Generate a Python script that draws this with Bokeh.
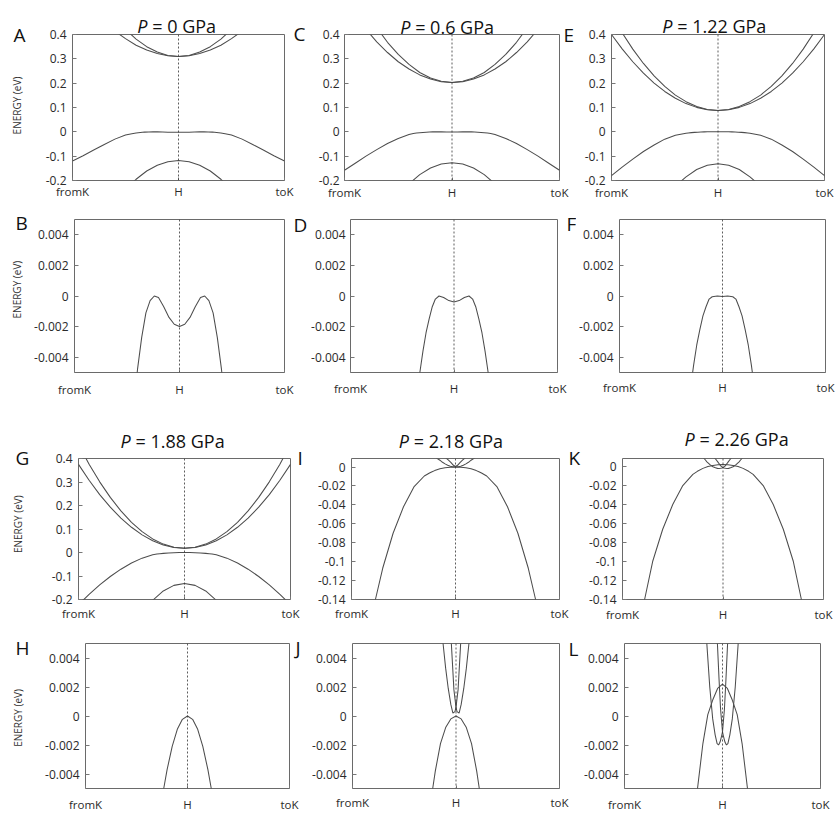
import math
from bokeh.plotting import figure
from bokeh.models import Range1d, FixedTicker, Label, Span
from bokeh.layouts import row, column
from bokeh.embed import file_html
from bokeh.resources import INLINE

# ---------------- axes / ticks ----------------
x_ticks = [-1, 0, 1]                      # fromK, H, toK
x_tick_labels = ["fromK", "H", "toK"]
wide_ticks = [-0.2, -0.1, 0, 0.1, 0.2, 0.3, 0.4]
wide_labels = ["-0.2", "-0.1", "0", "0.1", "0.2", "0.3", "0.4"]
fine_ticks = [-0.004, -0.002, 0, 0.002, 0.004]
fine_labels = ["-0.004", "-0.002", "0", "0.002", "0.004"]
mid_ticks = [-0.14, -0.12, -0.1, -0.08, -0.06, -0.04, -0.02, 0]
mid_labels = ["-0.14", "-0.12", "-0.1", "-0.08", "-0.06", "-0.04", "-0.02", "0"]

pressure_labels = ["0", "0.6", "1.22", "1.88", "2.18", "2.26"]
y_label = "ENERGY (eV)"

# ---------------- band data (k from H outward; symmetric bands) ----------------
# P = 0 GPa
k_cb1_p0 = [0, 0.1, 0.2, 0.3, 0.4, 0.5, 0.6]
e_cb1_p0 = [0.31, 0.313, 0.322, 0.336, 0.356, 0.383, 0.414]
k_cb2_p0 = [0, 0.1, 0.2, 0.3, 0.4, 0.5]
e_cb2_p0 = [0.31, 0.314, 0.328, 0.35, 0.381, 0.421]
k_vb1_p0 = [0, 0.05, 0.1, 0.15, 0.2, 0.24, 0.28, 0.32, 0.36, 0.4, 0.44, 0.5, 0.6, 0.7, 0.8, 0.9, 1.0]
e_vb1_p0 = [-0.002, -0.00185, -0.0014, -0.0007, -0.0001, 0.0, -0.0003, -0.0011, -0.0027, -0.0048,
            -0.0075, -0.013, -0.03, -0.052, -0.075, -0.098, -0.12]
k_vb2_p0 = [0, 0.1, 0.2, 0.3, 0.4, 0.45]
e_vb2_p0 = [-0.118, -0.123, -0.137, -0.161, -0.195, -0.215]

# P = 0.6 GPa
k_cb1_p06 = [0, 0.1, 0.2, 0.3, 0.4, 0.5, 0.6, 0.7, 0.8]
e_cb1_p06 = [0.203, 0.206, 0.217, 0.234, 0.258, 0.288, 0.326, 0.370, 0.421]
k_cb2_p06 = [0, 0.1, 0.2, 0.3, 0.4, 0.5, 0.6, 0.7]
e_cb2_p06 = [0.203, 0.208, 0.221, 0.244, 0.277, 0.318, 0.368, 0.428]
k_vb1_p06 = [0, 0.05, 0.1, 0.145, 0.18, 0.21, 0.24, 0.27, 0.3, 0.33, 0.36, 0.4, 0.5, 0.6, 0.7, 0.8, 0.9, 1.0]
e_vb1_p06 = [-0.0004, -0.0003, -0.0001, 0.0, -0.0002, -0.0007, -0.0015, -0.0024, -0.0036, -0.005,
             -0.0066, -0.011, -0.027, -0.048, -0.073, -0.1, -0.129, -0.158]
k_vb2_p06 = [0, 0.1, 0.2, 0.3, 0.4]
e_vb2_p06 = [-0.127, -0.1324, -0.1487, -0.1758, -0.2137]

# P = 1.22 GPa
k_cb1_p122 = [0, 0.1, 0.2, 0.3, 0.4, 0.5, 0.6, 0.7, 0.8, 0.9, 1.0]
e_cb1_p122 = [0.088, 0.091, 0.1005, 0.116, 0.138, 0.166, 0.2003, 0.241, 0.288, 0.341, 0.4]
k_cb2_p122 = [0, 0.1, 0.2, 0.3, 0.4, 0.5, 0.6, 0.7, 0.8, 0.9]
e_cb2_p122 = [0.088, 0.092, 0.104, 0.124, 0.151, 0.187, 0.230, 0.281, 0.340, 0.407]
k_vb1_p122 = [0, 0.05, 0.1, 0.13, 0.16, 0.19, 0.22, 0.25, 0.28, 0.3, 0.4, 0.5, 0.6, 0.7, 0.8, 0.9, 1.0]
e_vb1_p122 = [-0.00003, 0.0, -0.00005, -0.0002, -0.0007, -0.0013, -0.0022, -0.0032, -0.0045, -0.0055,
              -0.014, -0.03, -0.054, -0.081, -0.112, -0.145, -0.18]
k_vb2_p122 = [0, 0.1, 0.2, 0.3, 0.35, 0.4]
e_vb2_p122 = [-0.131, -0.137, -0.155, -0.185, -0.204, -0.226]

# P = 1.88 GPa
k_cb1_p188 = [0, 0.1, 0.2, 0.3, 0.4, 0.5, 0.6, 0.7, 0.8, 0.9, 1.0]
e_cb1_p188 = [0.018, 0.0216, 0.0323, 0.0501, 0.0751, 0.1073, 0.1465, 0.1929, 0.2465, 0.3072, 0.375]
k_cb2_p188 = [0, 0.1, 0.2, 0.3, 0.4, 0.5, 0.6, 0.7, 0.8, 0.9, 1.0]
e_cb2_p188 = [0.018, 0.0224, 0.0357, 0.0578, 0.0887, 0.1284, 0.177, 0.2344, 0.3007, 0.3758, 0.46]
k_vb1_p188 = [0, 0.05, 0.1, 0.15, 0.2, 0.233, 0.26, 0.3, 0.4, 0.5, 0.6, 0.7, 0.8, 0.9, 1.0]
e_vb1_p188 = [0.0, -0.00023, -0.00092, -0.0021, -0.0037, -0.005, -0.0062, -0.0095, -0.024, -0.045,
              -0.071, -0.102, -0.138, -0.178, -0.222]
k_vb2_p188 = [0, 0.1, 0.2, 0.3, 0.35]
e_vb2_p188 = [-0.132, -0.1399, -0.1637, -0.2033, -0.229]

# P = 2.18 GPa
k_vb1_p218 = [0, 0.05, 0.1, 0.15, 0.2, 0.225, 0.25, 0.3, 0.4, 0.5, 0.6, 0.7, 0.77, 0.85]
e_vb1_p218 = [0.0, -0.0002, -0.0008, -0.0019, -0.0038, -0.005, -0.0063, -0.0095, -0.021, -0.042,
              -0.07, -0.107, -0.14, -0.18]
# shifted conduction band (its partner is the mirror image about H)
k_cb_p218 = [-0.19, -0.175, -0.15, -0.125, -0.1, -0.075, -0.05, -0.03, -0.01, 0, 0.02, 0.045, 0.07, 0.09, 0.1]
e_cb_p218 = [0.0105, 0.009, 0.0072, 0.005, 0.0033, 0.0019, 0.0008, 0.0002, 0.0003, 0.0006, 0.0018,
             0.005, 0.0075, 0.0095, 0.0105]

# P = 2.26 GPa
k_vb1_p226 = [0, 0.05, 0.1, 0.15, 0.2, 0.255, 0.3, 0.4, 0.5, 0.6, 0.7, 0.78, 0.85]
e_vb1_p226 = [0.0022, 0.0019, 0.0011, 0.0001, -0.0019, -0.005, -0.0082, -0.02, -0.04, -0.066, -0.1,
              -0.14, -0.176]
k_cb_p226 = [-0.205, -0.19, -0.175, -0.16, -0.13, -0.1, -0.075, -0.055, -0.04, -0.025, -0.01, 0, 0.02,
             0.035, 0.052, 0.07, 0.085, 0.095]
e_cb_p226 = [0.0102, 0.0088, 0.0069, 0.005, 0.002, -0.0002, -0.0013, -0.0019, -0.002, -0.0018, -0.0014,
             -0.0011, 0.0005, 0.0025, 0.005, 0.0075, 0.0092, 0.0102]


def mirror(hk, he):
    ks = [-k for k in reversed(hk[1:])] + list(hk)
    es = list(reversed(he[1:])) + list(he)
    return ks, es


bands = {
    "0": [mirror(k_cb1_p0, e_cb1_p0), mirror(k_cb2_p0, e_cb2_p0),
          mirror(k_vb1_p0, e_vb1_p0), mirror(k_vb2_p0, e_vb2_p0)],
    "0.6": [mirror(k_cb1_p06, e_cb1_p06), mirror(k_cb2_p06, e_cb2_p06),
            mirror(k_vb1_p06, e_vb1_p06), mirror(k_vb2_p06, e_vb2_p06)],
    "1.22": [mirror(k_cb1_p122, e_cb1_p122), mirror(k_cb2_p122, e_cb2_p122),
             mirror(k_vb1_p122, e_vb1_p122), mirror(k_vb2_p122, e_vb2_p122)],
    "1.88": [mirror(k_cb1_p188, e_cb1_p188), mirror(k_cb2_p188, e_cb2_p188),
             mirror(k_vb1_p188, e_vb1_p188), mirror(k_vb2_p188, e_vb2_p188)],
    "2.18": [mirror(k_vb1_p218, e_vb1_p218), (k_cb_p218, e_cb_p218),
             ([-k for k in k_cb_p218], e_cb_p218)],
    "2.26": [mirror(k_vb1_p226, e_vb1_p226), (k_cb_p226, e_cb_p226),
             ([-k for k in k_cb_p226], e_cb_p226)],
}

# ---------------- layout geometry (page pixels) ----------------
row_bounds = [(0, 202), (202, 405), (405, 625), (625, 814)]
col_bounds = [[0, 305, 577, 835], [0, 308, 576, 835], [0, 302, 581, 835], [0, 304, 579, 835]]

FONT = "Open Sans"
TICK_COLOR = "#2a2a2a"
LINE_COLOR = "#4d4d4d"

panels = [
    dict(name="A", row=0, col=0, frame=(72, 284, 34, 182), yr=(-0.2, 0.4), kind="wide", p="0", xs=3, ys=6),
    dict(name="C", row=0, col=1, frame=(342, 559, 33, 182), yr=(-0.2, 0.4), kind="wide", p="0.6", xs=4, ys=5),
    dict(name="E", row=0, col=2, frame=(611, 824, 33, 182), yr=(-0.2, 0.4), kind="wide", p="1.22", xs=4, ys=6),
    dict(name="B", row=1, col=0, frame=(74, 284, 219, 374), yr=(-0.005, 0.005), kind="fine", p="0", xs=9, ys=6),
    dict(name="D", row=1, col=1, frame=(349, 557, 219, 373), yr=(-0.005, 0.005), kind="fine", p="0.6", xs=8, ys=5),
    dict(name="F", row=1, col=2, frame=(619, 825, 218, 372), yr=(-0.005, 0.005), kind="fine", p="1.22", xs=7, ys=6),
    dict(name="G", row=2, col=0, frame=(78, 290, 456, 602), yr=(-0.2, 0.4), kind="wide", p="1.88", xs=6, ys=6),
    dict(name="I", row=2, col=1, frame=(351, 559, 456, 602), yr=(-0.14, 0.009), kind="mid", p="2.18", xs=6, ys=6),
    dict(name="K", row=2, col=2, frame=(622, 823, 458, 599), yr=(-0.14, 0.0085), kind="mid", p="2.26", xs=7, ys=6),
    dict(name="H", row=3, col=0, frame=(85, 289, 638, 788), yr=(-0.005, 0.005), kind="fine", p="1.88", xs=8, ys=6),
    dict(name="J", row=3, col=1, frame=(352, 559, 639, 792), yr=(-0.005, 0.005), kind="fine", p="2.18", xs=6, ys=6),
    dict(name="L", row=3, col=2, frame=(624, 820, 643, 788), yr=(-0.005, 0.005), kind="fine", p="2.26", xs=8, ys=6),
]

# panel letters: (text, page x, baseline y, host figure, side panel)
letters = [("A", 13, 35, "A", "left"), ("C", 293, 33, "A", "right"), ("E", 563, 33, "C", "right"),
           ("B", 15, 223, "B", "left"), ("D", 293, 225, "B", "right"), ("F", 566, 224, "D", "right"),
           ("G", 15, 455, "G", "left"), ("I", 297, 455, "G", "right"), ("K", 568, 455, "I", "right"),
           ("H", 15, 643, "H", "left"), ("J", 295, 643, "H", "right"), ("L", 568, 645, "J", "right")]
# titles: (pressure, x of italic P, x of "=", baseline, host, side for P)
titles = [("0", 136.7, 151.7, 25, "A", "left"), ("0.6", 398.3, 413.3, 25, "C", "left"),
          ("1.22", 661.7, 676.7, 24, "E", "right"), ("1.88", 120, 135, 438, "G", "left"),
          ("2.18", 398.3, 413.3, 438, "I", "left"), ("2.26", 684, 699, 438, "K", "right")]
# y-axis captions: (x center, y center, host)
energy_labels = [(16, 106, "A"), (16, 290, "B"), (17, 524, "G"), (17, 715, "H")]

tick_sets = {"wide": (wide_ticks, wide_labels), "fine": (fine_ticks, fine_labels),
             "mid": (mid_ticks, mid_labels)}

figs = {}
geom = {}


def build(spec):
    fl, fr, ft, fb = spec["frame"]
    cb = col_bounds[spec["row"]]
    cx0, cx1 = cb[spec["col"]], cb[spec["col"] + 1]
    ry0, ry1 = row_bounds[spec["row"]]
    ylo, yhi = spec["yr"]
    p = figure(width=cx1 - cx0, height=ry1 - ry0, title=None,
               x_range=Range1d(-1, 1), y_range=Range1d(ylo, yhi),
               output_backend="svg", toolbar_location=None,
               min_border_left=fl - cx0, min_border_right=cx1 - fr,
               min_border_top=ft - ry0, min_border_bottom=ry1 - fb)
    p.xgrid.visible = False
    p.ygrid.visible = False
    p.outline_line_color = "#6a6a6a"
    p.outline_line_width = 1
    p.background_fill_color = "white"
    p.border_fill_color = "white"

    yt, yl = tick_sets[spec["kind"]]
    xa = p.xaxis[0]
    xa.ticker = FixedTicker(ticks=x_ticks)
    xa.major_label_overrides = dict(zip(x_ticks, x_tick_labels))
    xa.axis_line_color = None
    xa.major_tick_in = 3
    xa.major_tick_out = 0
    xa.major_tick_line_color = "#777777"
    xa.minor_tick_line_color = None
    xa.major_label_standoff = spec["xs"]
    xa.major_label_text_font = FONT
    xa.major_label_text_font_size = "11.5px"
    xa.major_label_text_color = TICK_COLOR

    ya = p.yaxis[0]
    ya.ticker = FixedTicker(ticks=yt)
    ya.major_label_overrides = dict(zip(yt, yl))
    ya.axis_line_color = None
    ya.major_tick_in = 4
    ya.major_tick_out = 0
    ya.major_tick_line_color = "#777777"
    ya.minor_tick_line_color = None
    ya.major_label_standoff = spec["ys"]
    ya.major_label_text_font = FONT
    ya.major_label_text_font_size = "12px"
    ya.major_label_text_color = TICK_COLOR

    for ks, es in bands[spec["p"]]:
        p.line(ks, es, line_color=LINE_COLOR, line_width=1.05)

    p.add_layout(Span(location=0, dimension="height", line_color="#333333",
                      line_dash="2 2", line_width=0.8))
    figs[spec["name"]] = p
    geom[spec["name"]] = (fl, fr, ft, fb, ylo, yhi)


for s in panels:
    build(s)


def to_data(host, px, py):
    fl, fr, ft, fb, ylo, yhi = geom[host]
    x = -1 + (px - fl) / (fr - fl) * 2
    y = yhi - (py - ft) / (fb - ft) * (yhi - ylo)
    return x, y


for txt, px, py, host, side in letters:
    x, y = to_data(host, px, py)
    figs[host].add_layout(Label(x=x, y=y, text=txt, text_font=FONT, text_font_size="19px",
                                text_align="left", text_baseline="alphabetic",
                                text_color="#111111"), side)

for pr, px_p, px_eq, base, host, side_p in titles:
    x1, y1 = to_data(host, px_p, base)
    x2, _ = to_data(host, px_eq, base)
    figs[host].add_layout(Label(x=x1, y=y1, text="P", text_font=FONT, text_font_size="18px",
                                text_font_style="italic", text_align="left",
                                text_baseline="alphabetic", text_color="#111111"), side_p)
    figs[host].add_layout(Label(x=x2, y=y1, text="= " + pr + " GPa", text_font=FONT,
                                text_font_size="18px", text_align="left",
                                text_baseline="alphabetic", text_color="#111111"), "above")

for ex_px, ey_px, host in energy_labels:
    x, y = to_data(host, ex_px, ey_px)
    figs[host].add_layout(Label(x=x, y=y, text=y_label, text_font=FONT, text_font_size="10px",
                                angle=math.pi / 2, text_align="center", text_baseline="middle",
                                text_color="#333333"), "left")

layout = column(
    row(figs["A"], figs["C"], figs["E"]),
    row(figs["B"], figs["D"], figs["F"]),
    row(figs["G"], figs["I"], figs["K"]),
    row(figs["H"], figs["J"], figs["L"]),
)

open("out.html", "w").write(file_html(layout, INLINE))
